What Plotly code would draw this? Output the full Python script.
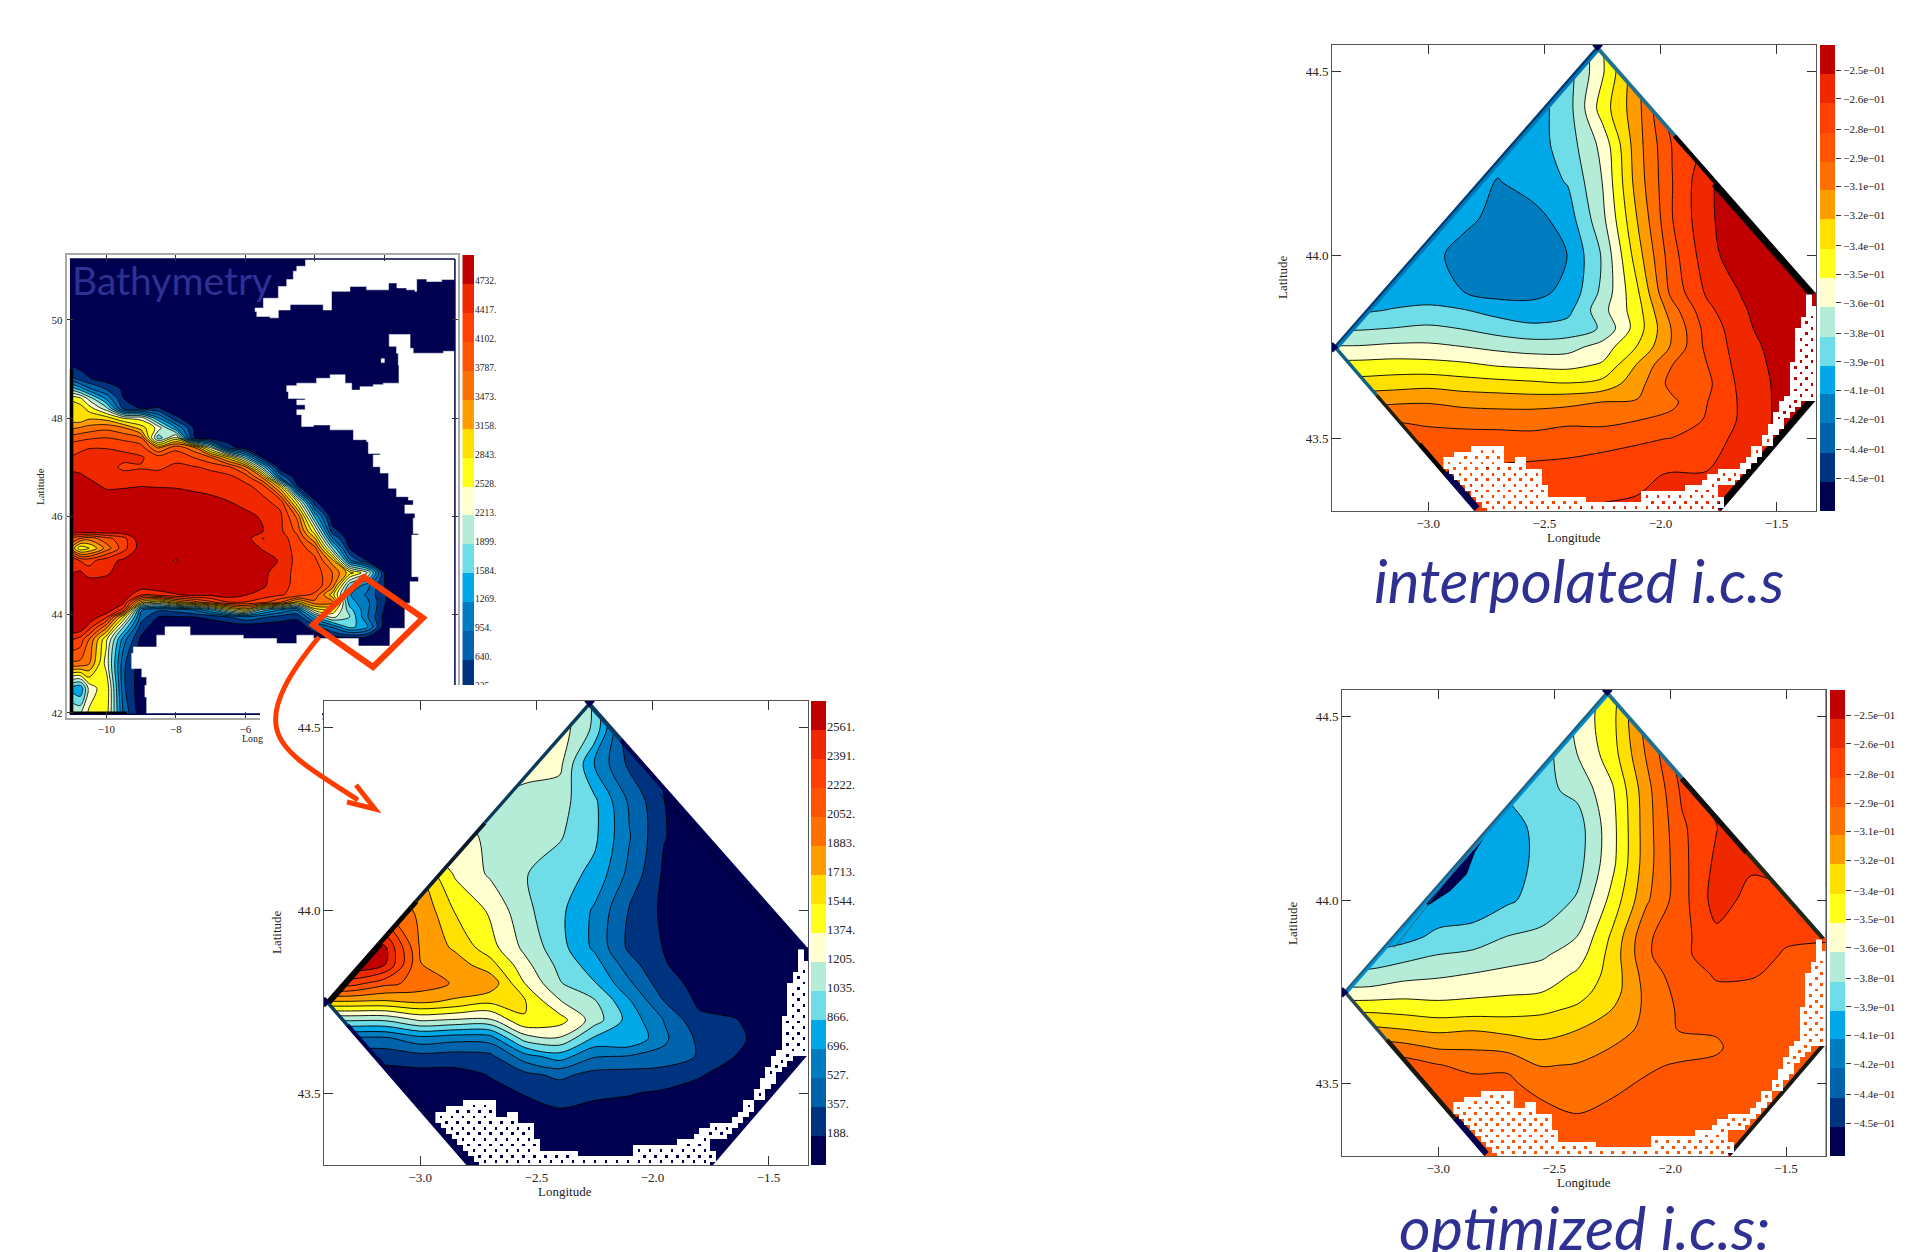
import numpy as np
import plotly.graph_objects as go

W, H = 1916, 1252
NAVY_TXT = "#2E3192"
SERIF = "Liberation Serif"

band_colors = ["#000050", "#00337F", "#0063AC", "#007CC0", "#00A8E8", "#6EDDE8", "#B4ECD8", "#FFFFD0",
               "#FFFF1A", "#FFE000", "#FF9C00", "#FF7000", "#FF5500", "#FF4000", "#F02800", "#C00000"]

# ---------- bathymetry, whole bay ----------
a_levels = [325, 640, 954, 1269, 1584, 1899, 2213, 2528, 2843, 3158, 3473, 3787, 4102, 4417, 4732]
a_labels = ["325.", "640.", "954.", "1269.", "1584.", "1899.", "2213.", "2528.", "2843.", "3158.", "3473.", "3787.", "4102.", "4417.", "4732."]
a_lon = [-11.05, -10.75, -10.5, -10, -9.5, -9, -8.5, -8, -7.5, -7, -6.5, -6, -5.5, -5, -4.5, -4, -3.5, -3, -2.5, -2, -1.5, -1, 0.03]
a_lat = [51.24, 49.2, 48.8, 48.6, 48.4, 48.2, 48.0, 47.8, 47.6, 47.4, 47.2, 47.0, 46.8, 46.6, 46.3, 46.0, 45.7, 45.55, 45.35,
         45.1, 44.85, 44.6, 44.4, 44.25, 44.1, 43.95, 43.75, 43.5, 43.0, 42.5, 41.97]
a_depth = [
    [100]*23,
    [100]*23,
    [800, 500, 350, 150] + [100]*19,
    [1800, 1400, 1000, 600, 250] + [100]*18,
    [2800, 2600, 2100, 1200, 320] + [100]*18,
    [3000, 3000, 2700, 2000, 500, 300, 350] + [100]*16,
    [3000, 2900, 3100, 3000, 2500, 2400, 1300, 400] + [100]*15,
    [3400, 3500, 3600, 3700, 3500, 3000, 2400, 1300, 330] + [100]*14,
    [3900, 4000, 4050, 4100, 4000, 3800, 1700, 2600, 350] + [100]*14,
    [4300, 4350, 4400, 4400, 4350, 4250, 3400, 4000, 3600, 2200, 500] + [100]*12,
    [4420, 4500, 4550, 4550, 4500, 4450, 4250, 4300, 4100, 3800, 3000, 1800, 300] + [100]*10,
    [4650, 4620, 4580, 4550, 4350, 4400, 4350, 4500, 4450, 4350, 4200, 3600, 1800] + [100]*10,
    [4850, 4800, 4700, 4550, 4550, 4500, 4560, 4600, 4600, 4550, 4500, 4300, 3400, 900] + [100]*9,
    [4900, 4900, 4900, 4680, 4700, 4740, 4720, 4720, 4680, 4650, 4600, 4500, 4300, 3000, 350] + [100]*8,
    [5000, 5000, 5000, 5000, 5000, 5000, 5000, 4850, 4850, 4800, 4740, 4650, 4500, 4300, 2500, 350] + [100]*7,
    [5000]*10 + [4950, 4800, 4700, 4500, 3700, 1500] + [100]*7,
    [5000]*10 + [4950, 4900, 4750, 4500, 4000, 2600, 450] + [100]*6,
    [4000, 3800, 3600, 4000, 4300, 5000, 5000, 5000, 5000, 5000, 5000, 4900, 4400, 4600, 4200, 3200, 1000] + [100]*6,
    [3600, 2600, 2800, 3600, 4300, 4900, 5000, 5000, 5000, 5000, 5000, 4950, 4700, 4600, 4300, 3900, 1900, 300] + [100]*5,
    [4800, 4400, 4300, 4600, 4800, 5000, 5000, 4700, 5000, 5000, 5000, 5000, 4900, 4700, 4300, 4200, 3300, 1000, 320] + [100]*4,
    [4700, 4800, 4560, 4650, 5000, 5000, 5000, 5000, 5000, 5000, 5000, 5000, 4800, 4600, 4300, 4300, 3800, 3000, 2300, 300] + [100]*3,
    [5000]*12 + [4800, 4500, 4350, 4400, 3700, 1700, 1100, 330] + [100]*3,
    [5000]*5 + [4400, 4550, 4700, 4800, 4800, 4900, 4750, 4600, 4450, 4300, 4000, 3000, 1300, 900, 350] + [100]*3,
    [5000]*4 + [4800, 3000, 2500, 3200, 3600, 4000, 4400, 4400, 4200, 3800, 3000, 3700, 3600, 1400, 1050, 350] + [100]*3,
    [5000]*4 + [4300, 1000, 700, 800, 1000, 1600, 2500, 3000, 1800, 1300, 1000, 2700, 2800, 1700, 1040, 300] + [100]*3,
    [5000, 5000, 5000, 4500, 2800, 800, 320, 300, 320, 400, 600, 900, 700, 500, 400, 1500, 2300, 1900, 1000, 220] + [100]*3,
    [5000, 5000, 4600, 3600, 1900, 500, 100, 100, 100, 100, 100, 100, 100, 120, 150, 500, 1000, 1700, 1350, 150] + [100]*3,
    [4500, 4300, 3800, 2600, 1100, 250] + [100]*17,
    [3700, 3700, 3500, 2400, 700, 150] + [100]*17,
    [1500, 1300, 2300, 2800, 700] + [100]*18,
    [2300, 2200, 2600, 2700, 900] + [100]*18,
]
# land
uk_lon = [-4.27, -4.27, -4.52, -4.62, -4.81, -5.05, -5.48, -5.72, -5.67, -5.29, -5.10, -5.05, -4.71, -3.76, -3.52, -3.52, -2.99, -2.51, -1.88, -1.64, -1.36, -1.12, -1.07, -0.78, -0.35, 0.03, 0.03, -4.27]
uk_lat = [51.24, 51.09, 50.99, 50.82, 50.68, 50.44, 50.24, 50.17, 50.07, 50.04, 50.04, 50.2, 50.31, 50.2, 50.27, 50.58, 50.68, 50.61, 50.75, 50.65, 50.61, 50.58, 50.83, 50.78, 50.82, 50.78, 51.24, 51.24]
fr_lon = [0.03, -0.30, -1.17, -1.26, -1.50, -1.86, -1.86, -1.65, -1.60, -1.58, -2.03, -2.32, -2.70, -2.94, -3.13, -3.56, -3.95, -4.52, -4.81, -4.76, -4.28, -4.52, -4.28, -4.52, -4.38, -4.04, -3.56, -2.89, -2.51, -2.46, -2.12, -2.32, -2.12, -1.88, -1.65, -1.31, -1.17, -1.41, -1.12, -1.17, -1.02, -1.21, -1.02, -1.26, -1.26, -1.41, -1.41, -1.84, -2.51, -2.75, -4.04, -4.52, -5.10, -6.06, -7.30, -7.59, -8.07, -8.31, -8.55, -9.22, -9.27, -8.98, -8.84, -8.89, -8.84, 0.03, 0.03]
fr_lat = [49.36, 49.32, 49.42, 49.70, 49.70, 49.63, 49.46, 49.32, 49.08, 48.71, 48.68, 48.64, 48.57, 48.71, 48.88, 48.81, 48.71, 48.66, 48.54, 48.40, 48.37, 48.27, 48.17, 48.07, 47.83, 47.86, 47.76, 47.56, 47.52, 47.28, 47.25, 47.01, 46.88, 46.57, 46.40, 46.33, 46.23, 46.06, 45.96, 45.65, 45.62, 44.77, 44.67, 44.63, 44.23, 43.99, 43.72, 43.36, 43.36, 43.51, 43.58, 43.41, 43.51, 43.58, 43.58, 43.75, 43.75, 43.58, 43.34, 43.21, 42.90, 42.73, 42.56, 42.32, 41.99, 41.99, 49.36]
isle_lon = [-2.09, -2.0, -2.0, -2.09, -2.09]
isle_lat = [49.21, 49.21, 49.13, 49.13, 49.21]

# ---------- bathymetry, model box ----------
box_lon = [-3.45, -3.3, -3.15, -3.0, -2.85, -2.7, -2.55, -2.4, -2.25, -2.1, -1.95, -1.8, -1.65, -1.5, -1.3]
box_lat = [44.6, 44.5, 44.4, 44.3, 44.2, 44.1, 44.0, 43.9, 43.85, 43.8, 43.75, 43.7, 43.65, 43.6, 43.55, 43.5, 43.4, 43.3]
box_corner_lon = [-2.271, -1.334, -1.334, -1.739, -2.802, -3.411]
box_corner_lat = [44.571, 43.899, 43.602, 43.303, 43.303, 43.749]
b_levels = [188, 357.4, 527, 696.4, 866, 1035.4, 1205, 1374.4, 1544, 1713.4, 1883, 2052.4, 2222, 2391.4, 2561]
b_labels = ["188.", "357.", "527.", "696.", "866.", "1035.", "1205.", "1374.", "1544.", "1713.", "1883.", "2052.", "2222.", "2391.", "2561."]
b_depth = [
    [1300]*8 + [1000, 150] + [100]*5,
    [1300]*8 + [1000, 170] + [100]*5,
    [1300]*7 + [1250, 680, 320, 150] + [100]*4,
    [1200]*6 + [1120, 1100, 900, 500, 190] + [100]*4,
    [1300]*5 + [1160, 1100, 1050, 900, 540, 195] + [100]*4,
    [1700]*4 + [1350, 1180, 1045, 950, 820, 480, 160] + [100]*4,
    [2000]*3 + [1850, 1530, 1350, 1080, 910, 670, 345, 150] + [100]*4,
    [2700, 2700, 2570, 1860, 1680, 1440, 1160, 930, 660, 320, 180] + [100]*4,
    [2700, 2700, 2560, 1890, 1800, 1620, 1260, 990, 780, 430, 200, 110, 100, 100, 100],
    [2300, 2300, 2100, 1990, 1860, 1830, 1375, 1050, 880, 560, 250, 140, 100, 100, 100],
    [1700, 1700, 1690, 1745, 1680, 1580, 1560, 1220, 1060, 720, 360, 160, 110, 100, 100],
    [1060, 1060, 1060, 1230, 1190, 1180, 1535, 1450, 1120, 800, 520, 225, 200, 100, 100],
    [500, 500, 500, 640, 590, 610, 1120, 1190, 840, 860, 560, 320, 240, 100, 100],
    [250, 250, 250, 300, 280, 310, 620, 780, 540, 510, 480, 340, 190, 100, 100],
    [120, 120, 120, 120, 130, 195, 310, 400, 300, 290, 260, 200, 130, 100, 100],
    [100, 100, 100, 100, 110, 150, 195, 250, 210, 195, 170, 140, 100, 100, 100],
    [100]*15,
    [100]*15,
]

# ---------- initial conditions ----------
ic_levels = [-.450, -.436, -.421, -.407, -.393, -.379, -.364, -.350, -.336, -.321, -.307, -.293, -.279, -.264, -.250]
ic_labels = ["\u22124.5e\u221201", "\u22124.4e\u221201", "\u22124.2e\u221201", "\u22124.1e\u221201", "\u22123.9e\u221201", "\u22123.8e\u221201", "\u22123.6e\u221201",
             "\u22123.5e\u221201", "\u22123.4e\u221201", "\u22123.2e\u221201", "\u22123.1e\u221201", "\u22122.9e\u221201", "\u22122.8e\u221201", "\u22122.6e\u221201", "\u22122.5e\u221201"]
interp_ic = [
    [-.40]*7 + [-.385, -.35, -.31, -.28, -.26, -.24, -.24, -.24],
    [-.40]*7 + [-.385, -.352, -.31, -.28, -.26, -.24, -.24, -.24],
    [-.40]*7 + [-.385, -.343, -.312, -.27, -.26, -.24, -.24, -.24],
    [-.40]*7 + [-.386, -.36, -.313, -.278, -.26, -.24, -.24, -.24],
    [-.40]*5 + [-.408, -.40, -.392, -.364, -.315, -.279, -.253, -.24, -.24, -.24],
    [-.40, -.40, -.40, -.40, -.403, -.412, -.413, -.40, -.368, -.321, -.279, -.253, -.24, -.24, -.24],
    [-.40, -.40, -.40, -.402, -.413, -.416, -.416, -.407, -.377, -.328, -.284, -.256, -.24, -.24, -.24],
    [-.40, -.40, -.40, -.402, -.407, -.413, -.411, -.404, -.375, -.338, -.288, -.262, -.249, -.24, -.24],
    [-.395, -.395, -.392, -.389, -.392, -.398, -.402, -.397, -.369, -.342, -.299, -.268, -.252, -.24, -.24],
    [-.38, -.38, -.378, -.376, -.379, -.385, -.389, -.387, -.377, -.343, -.306, -.273, -.255, -.24, -.24],
    [-.363, -.363, -.361, -.361, -.364, -.368, -.371, -.37, -.358, -.335, -.305, -.275, -.257, -.245, -.245],
    [-.345, -.345, -.344, -.345, -.347, -.351, -.353, -.354, -.348, -.32, -.293, -.279, -.258, -.247, -.247],
    [-.33, -.33, -.328, -.326, -.329, -.331, -.333, -.335, -.331, -.313, -.288, -.282, -.26, -.248, -.248],
    [-.31, -.31, -.309, -.308, -.311, -.312, -.313, -.311, -.307, -.306, -.296, -.279, -.262, -.248, -.248],
    [-.30, -.30, -.294, -.297, -.298, -.299, -.298, -.296, -.298, -.293, -.289, -.277, -.262, -.248, -.248],
    [-.29, -.29, -.285, -.285, -.287, -.287, -.289, -.286, -.283, -.281, -.278, -.274, -.258, -.248, -.248],
    [-.28, -.28, -.28, -.28, -.28, -.275, -.272, -.272, -.271, -.267, -.263, -.263, -.25, -.25, -.25],
    [-.28, -.28, -.28, -.28, -.28, -.27, -.268, -.264, -.262, -.262, -.262, -.262, -.255, -.25, -.25],
]
optim_ic = [
    [-.40]*6 + [-.385, -.36, -.345, -.30, -.27, -.25, -.25, -.25, -.25],
    [-.40]*6 + [-.385, -.36, -.34, -.30, -.27, -.25, -.25, -.25, -.25],
    [-.40]*6 + [-.385, -.364, -.342, -.305, -.27, -.25, -.25, -.25, -.25],
    [-.40]*5 + [-.39, -.382, -.375, -.352, -.312, -.276, -.25, -.25, -.25, -.25],
    [-.40]*5 + [-.40, -.387, -.385, -.355, -.313, -.281, -.265, -.25, -.25, -.25],
    [-.40]*4 + [-.403, -.40, -.388, -.384, -.354, -.313, -.283, -.261, -.262, -.25, -.25],
    [-.40, -.40, -.40, -.405, -.402, -.395, -.387, -.377, -.345, -.309, -.284, -.258, -.269, -.275, -.275],
    [-.40, -.40, -.398, -.389, -.387, -.378, -.375, -.364, -.333, -.295, -.283, -.268, -.275, -.278, -.278],
    [-.39, -.39, -.384, -.378, -.375, -.37, -.366, -.357, -.33, -.295, -.281, -.273, -.277, -.279, -.28],
    [-.375, -.375, -.37, -.367, -.364, -.361, -.359, -.348, -.33, -.30, -.285, -.277, -.278, -.28, -.28],
    [-.36, -.36, -.356, -.356, -.354, -.352, -.35, -.341, -.328, -.303, -.288, -.281, -.28, -.282, -.282],
    [-.338, -.338, -.34, -.343, -.342, -.341, -.338, -.333, -.321, -.304, -.29, -.287, -.283, -.284, -.284],
    [-.319, -.319, -.322, -.325, -.323, -.326, -.328, -.322, -.315, -.303, -.291, -.291, -.284, -.284, -.284],
    [-.30, -.30, -.303, -.309, -.309, -.312, -.317, -.315, -.307, -.298, -.30, -.295, -.284, -.284, -.284],
    [-.285, -.285, -.285, -.292, -.297, -.296, -.308, -.306, -.301, -.295, -.291, -.29, -.285, -.285, -.285],
    [-.28, -.28, -.28, -.285, -.288, -.289, -.301, -.301, -.296, -.291, -.288, -.287, -.285, -.285, -.285],
    [-.28, -.28, -.28, -.28, -.28, -.28, -.283, -.291, -.288, -.287, -.285, -.283, -.283, -.283, -.283],
    [-.28, -.28, -.28, -.28, -.28, -.28, -.28, -.285, -.285, -.285, -.285, -.283, -.283, -.283, -.283],
]
wedge_lon = [-3.046, -2.949, -2.879, -2.844, -2.80, -2.80, -3.10, -3.046]
wedge_lat = [43.986, 44.026, 44.071, 44.13, 44.175, 44.30, 44.10, 43.986]

# land cells of the model box: row, first column, last column
land_row = [0, 1, 2, 2, 3, 4, 5, 6, 7, 8, 8, 9, 9, 10, 11, 7, 6, 5, 4, 3, 2, 1, 0, -1, -2, -3, -4, -5, -6, -7, -8, -9, -10, -11, -12, -13, -14, -15,
            -16, -17, -18, -19, -20, -21, -22, -23, -24, -25, -26, -27]
land_c0 = [5, 2, 0, 13, 0, 1, 2, 3, 4, 5, 36, 6, 36, 7, 8, 44, 47, 48, 50, 54, 55, 56, 56, 58, 58, 59, 59, 60, 60, 61, 61, 62, 63, 63, 63, 63, 63, 63,
           64, 64, 64, 64, 64, 64, 65, 65, 66, 66, 66, 66]
land_c1 = [10, 10, 10, 14, 14, 17, 17, 17, 18, 18, 49, 25, 50, 50, 49, 49, 52, 53, 54, 55, 56, 57, 57, 59, 59, 60, 61, 61, 62, 63, 64, 67, 67, 67, 67, 67, 67, 67,
           67, 67, 67, 67, 67, 67, 67, 67, 67, 67, 66, 66]

# ---------- layout helpers ----------
def xdom(a, b):
    return [a / W, b / W]

def ydom(t, b):
    return [1 - b / H, 1 - t / H]

def discrete(colors):
    n = len(colors)
    out = []
    for i, c in enumerate(colors):
        out += [[i / n, c], [(i + 1) / n, c]]
    return out

fig = go.Figure()
layout = {}
annots = []
axis_id = [0]

def new_axes(xd, yd, xa, ya):
    axis_id[0] += 1
    k = axis_id[0]
    s = "" if k == 1 else str(k)
    layout["xaxis" + s] = dict(domain=xd, anchor="y" + s, **xa)
    layout["yaxis" + s] = dict(domain=yd, anchor="x" + s, **ya)
    return "x" + s, "y" + s

def note(text, x, y, size, rot=0, anchor="center", **font):
    annots.append(dict(text=text, x=x / W, y=1 - y / H, xref="paper", yref="paper", showarrow=False, xanchor=anchor, yanchor="middle",
                       textangle=rot, font=dict(size=size, **font), align="center"))

def contour(lon, lat, z, levels, xa, ya, lw=0.9):
    step = (levels[-1] - levels[0]) / (len(levels) - 1)
    fig.add_trace(go.Contour(x=lon, y=list(lat)[::-1], z=list(z)[::-1], xaxis=xa, yaxis=ya, showscale=False, autocontour=False,
                             contours=dict(start=levels[0], end=levels[-1], size=step, coloring="fill"),
                             colorscale=discrete(band_colors), zmin=levels[0] - step, zmax=levels[-1] + step,
                             line=dict(color="#000000", width=lw, smoothing=0.9), hoverinfo="skip"))

def colorbar(xd, yd, levels, labels, size, ticklen, tickoff=0.13):
    step = (levels[-1] - levels[0]) / (len(levels) - 1)
    edges_ = [levels[0] - step] + list(levels) + [levels[-1] + step]
    mids = [(edges_[i] + edges_[i + 1]) / 2 for i in range(16)]
    xa, ya = new_axes(xd, yd,
                      dict(visible=False, range=[0, 1], fixedrange=True),
                      dict(range=[edges_[0], edges_[-1]], side="right", showline=False, showgrid=False, zeroline=False,
                           tickvals=[v + tickoff * step for v in levels], ticktext=labels, ticks="outside" if ticklen else "",
                           ticklen=ticklen, tickcolor="#333333", tickwidth=1, tickfont=dict(family=SERIF, size=size, color="#222222")))
    fig.add_trace(go.Heatmap(x=[0, 1], y=edges_, z=[[m] for m in mids],
                             colorscale=discrete(band_colors), zmin=edges_[0], zmax=edges_[-1], showscale=False, hoverinfo="skip",
                             xaxis=xa, yaxis=ya))

def frame(xr, yr, xticks, xtext, yticks, ytext, size, ticklen, linecolor="#555555", lw=1):
    common = dict(showgrid=False, zeroline=False, showline=True, linecolor=linecolor, linewidth=lw, mirror="ticks", ticks="inside",
                  ticklen=ticklen, tickcolor="#333333", tickwidth=1, tickfont=dict(family=SERIF, size=size, color="#222222"))
    return dict(range=xr, tickvals=xticks, ticktext=xtext, **common), dict(range=yr, tickvals=yticks, ticktext=ytext, **common)

def box_mask(xa, ya, xr, yr):
    cx, cy = box_corner_lon, box_corner_lat
    px = [xr[0], xr[0], cx[0], cx[5], None,
          cx[0], xr[1], xr[1], cx[1], None,
          cx[2], xr[1], xr[1], cx[3], None,
          cx[4], xr[0], xr[0], cx[5]]
    py = [yr[0], yr[1], yr[1], cy[5], None,
          yr[1], yr[1], cy[1], cy[1], None,
          cy[2], cy[2], yr[0], yr[0], None,
          yr[0], yr[0], cy[5], cy[5]]
    fig.add_trace(go.Scatter(x=px, y=py, mode="lines", fill="toself", fillcolor="#FFFFFF", line=dict(width=0, color="#FFFFFF"),
                             xaxis=xa, yaxis=ya, hoverinfo="skip", showlegend=False))

def line_seg(xa, ya, lon0, lat0, lon1, lat1, col, w):
    fig.add_trace(go.Scatter(x=[lon0, lon1], y=[lat0, lat1], mode="lines", line=dict(color=col, width=w), xaxis=xa, yaxis=ya,
                             hoverinfo="skip", showlegend=False))

N_, E_, F_, S1_, S2_, W_ = 0, 1, 2, 3, 4, 5

def edges(xa, ya, segs):
    """stretches of the dense contours that hug the border: corner a to corner b, fraction t0 to t1"""
    for a, b, t0, t1, col, w in segs:
        ax, ay, bx, by = box_corner_lon[a], box_corner_lat[a], box_corner_lon[b], box_corner_lat[b]
        line_seg(xa, ya, ax + t0 * (bx - ax), ay + t0 * (by - ay), ax + t1 * (bx - ax), ay + t1 * (by - ay), col, w)

LAND_DX, LAND_DY, LAND_X0, LAND_Y0 = 0.0237, 0.0153, -2.935, 43.48

def land_cells(xd, yd, xr, yr):
    coarse = np.zeros((39, 68), bool)
    for r, c0, c1 in zip(land_row, land_c0, land_c1):
        coarse[r + 27, c0:c1 + 1] = True
    g = np.where(np.kron(coarse, np.ones((4, 4), bool)), 1.0, np.nan)
    for r in range(1, 39):
        for c in range(1, 68):
            if (r - 27 + c) % 2 == 0 and coarse[r - 1:r + 1, c - 1:c + 1].all():
                g[r * 4 - 1:r * 4 + 1, c * 4 - 1:c * 4 + 1] = np.nan
    xa, ya = new_axes(xd, yd, dict(visible=False, range=xr, fixedrange=True), dict(visible=False, range=yr, fixedrange=True))
    top = LAND_Y0 + 27 * LAND_DY
    fig.add_trace(go.Heatmap(z=g[::-1], x0=LAND_X0 + LAND_DX / 8, dx=LAND_DX / 4, y0=top - 39 * LAND_DY + LAND_DY / 8, dy=LAND_DY / 4,
                             colorscale=[[0, "#FFFFFF"], [1, "#FFFFFF"]], showscale=False, hoverinfo="skip", xaxis=xa, yaxis=ya))

box_xr = [-3.415, -1.33]
box_yr = [43.303, 44.573]
box_xt, box_xl = [-3.0, -2.5, -2.0, -1.5], ["\u22123.0", "\u22122.5", "\u22122.0", "\u22121.5"]
box_yt, box_yl = [43.5, 44.0, 44.5], ["43.5", "44.0", "44.5"]

def box_panel(l, r, t, b, cb0, cb1, z, levels, labels, cbsize, ticklen, segs, thin=(), wedge=False):
    xa_d, ya_d = frame(box_xr, box_yr, box_xt, box_xl, box_yt, box_yl, 13, 9)
    xa, ya = new_axes(xdom(l, r), ydom(t, b), xa_d, ya_d)
    contour(box_lon, box_lat, z, levels, xa, ya)
    if wedge:
        fig.add_trace(go.Scatter(x=wedge_lon, y=wedge_lat, mode="lines", fill="toself", fillcolor="#000050", line=dict(color="#000000", width=0.8),
                                 xaxis=xa, yaxis=ya, hoverinfo="skip", showlegend=False))
    edges(xa, ya, segs)
    for s in thin:
        line_seg(xa, ya, *s)
    box_mask(xa, ya, box_xr, box_yr)
    fig.add_trace(go.Scatter(x=[box_corner_lon[N_], box_corner_lon[W_]], y=[box_corner_lat[N_], box_corner_lat[W_]], mode="markers",
                             marker=dict(symbol="diamond", size=8, color="#000050"), xaxis=xa, yaxis=ya, hoverinfo="skip", showlegend=False))
    land_cells(xdom(l, r), ydom(t, b), box_xr, box_yr)
    colorbar(xdom(cb0, cb1), ydom(t, b), levels, labels, cbsize, ticklen)

# ---------- panel: whole bay ----------
xa_d, ya_d = frame([-11.14, 0.11], [41.9, 51.32], [-10, -8, -6, -4, -2], ["\u221210", "\u22128", "\u22126", "", ""],
                   [42, 44, 46, 48, 50], ["42", "44", "46", "48", "50"], 11, 6, linecolor="#AAAAAA", lw=2)
xa, ya = new_axes(xdom(66.7, 457.7), ydom(255, 717.7), xa_d, ya_d)
contour(a_lon, a_lat, a_depth, a_levels, xa, ya, lw=0.8)
for lo, la in ((uk_lon, uk_lat), (fr_lon, fr_lat), (isle_lon, isle_lat)):
    fig.add_trace(go.Scatter(x=lo, y=la, mode="lines", fill="toself", fillcolor="#FFFFFF", line=dict(color="#FFFFFF", width=0.5, shape="hv"),
                             xaxis=xa, yaxis=ya, hoverinfo="skip", showlegend=False))
for s in [(-11.0, 49.0, -11.0, 41.97, "#000000", 3.5), (-11.0, 51.24, -11.0, 49.0, "#000050", 3),
          (-11.05, 51.24, 0.03, 51.24, "#000050", 1.5), (0.03, 51.24, 0.03, 41.97, "#000050", 1.5),
          (-11.05, 41.97, 0.03, 41.97, "#000050", 1.5), (-11.0, 42.0, -9.4, 42.0, "#000000", 2.5)]:
    line_seg(xa, ya, *s)
colorbar(xdom(462.3, 474), ydom(255, 717.7), a_levels, a_labels, 9.5, 0, tickoff=0.1)

# ---------- panel: model box bathymetry ----------
box_panel(324, 808, 701, 1165, 811, 826, b_depth, b_levels, b_labels, 12.5, 0, [
    (W_, N_, 0, .2, "#000000", 12), (W_, N_, .2, .34, "#000000", 9), (W_, N_, .34, .6, "#0A1A2A", 7), (W_, N_, .6, 1, "#0A3A5A", 6),
    (N_, E_, 0, .15, "#0A3A60", 8), (N_, E_, .15, 1, "#000050", 8),
    (W_, S2_, 0, .15, "#0A3A60", 7), (W_, S2_, .15, 1, "#000050", 8),
    (S1_, F_, 0, 1, "#000050", 8),
], thin=[(-1.969, 44.32, -1.389, 43.90, "#000020", 1), (-3.18, 43.598, -2.942, 43.424, "#000020", 1)])
# ---------- panel: interpolated ----------
box_panel(1332, 1816, 45, 511, 1820, 1835, interp_ic, ic_levels, ic_labels, 11, 5, [
    (W_, N_, 0, 1, "#0078B8", 10), (W_, N_, 0, 1, "#003A70", 4),
    (N_, E_, 0, .36, "#207090", 7), (N_, E_, .36, .55, "#000000", 8), (N_, E_, .55, 1, "#000000", 14),
    (W_, S2_, 0, .3, "#106080", 7), (W_, S2_, .3, .6, "#202010", 7), (W_, S2_, .6, .78, "#000000", 9), (W_, S2_, .78, 1, "#000050", 14),
    (S1_, F_, 0, .05, "#000050", 14), (S1_, F_, .05, 1, "#000000", 14),
])
# ---------- panel: optimized ----------
box_panel(1342, 1825.5, 690, 1156, 1830, 1845, optim_ic, ic_levels, ic_labels, 11, 5, [
    (W_, N_, 0, 1, "#0090D0", 9), (W_, N_, 0, 1, "#206080", 4),
    (N_, E_, 0, .35, "#207090", 7), (N_, E_, .35, .65, "#101010", 10), (N_, E_, .65, 1, "#202818", 8),
    (W_, S2_, 0, .3, "#304850", 7), (W_, S2_, .3, .78, "#181810", 9), (W_, S2_, .78, 1, "#000050", 12),
    (S1_, F_, 0, .06, "#000050", 10), (S1_, F_, .06, 1, "#181810", 8),
], thin=[(-3.19, 43.87, -2.69, 44.275, "#505050", 0.8)], wedge=True)

# ---------- texts ----------
note("Longitude", 565, 1191, 13, family=SERIF, color="#222222")
note("Latitude", 276, 932, 13, rot=-90, family=SERIF, color="#222222")
note("Longitude", 1574, 537, 13, family=SERIF, color="#222222")
note("Latitude", 1283, 277, 13, rot=-90, family=SERIF, color="#222222")
note("Longitude", 1584, 1182, 13, family=SERIF, color="#222222")
note("Latitude", 1293, 923, 13, rot=-90, family=SERIF, color="#222222")
note("Latitude", 40, 487, 11, rot=-90, family=SERIF, color="#222222")
note("Long", 240, 738, 10, anchor="left", family=SERIF, color="#222222")
note("Bathymetry", 172, 280, 39, family="Lato", color=NAVY_TXT)
note("<i>interpolated i.c.s</i>", 1579, 580, 60, family="Lato", color=NAVY_TXT)
note("<i>optimized i.c.s:</i>", 1585, 1226, 61, family="Lato", color=NAVY_TXT)

RED = "#FF3C00"
shapes = [
    dict(type="rect", xref="paper", yref="paper", x0=260 / W, x1=322 / W, y0=1 - 720 / H, y1=1 - 685 / H, fillcolor="#FFFFFF", line=dict(width=0)),
    dict(type="rect", xref="paper", yref="paper", x0=322 / W, x1=500 / W, y0=1 - 700 / H, y1=1 - 685 / H, fillcolor="#FFFFFF", line=dict(width=0)),
]

def px_path(cmds):
    out = []
    for c in cmds:
        if isinstance(c, str):
            out.append(c)
        else:
            out.append(f"{c[0] / W:.5f},{1 - c[1] / H:.5f}")
    return " ".join(out)

shapes.append(dict(type="path", xref="paper", yref="paper", line=dict(color=RED, width=6),
                   path=px_path(["M", (364, 577), "L", (423, 618), "L", (373, 667), "L", (313, 625), "Z"])))
shapes.append(dict(type="path", xref="paper", yref="paper", line=dict(color=RED, width=5),
                   path=px_path(["M", (319, 637), "C", (290, 672), (270, 705), (277, 730), "C", (283, 755), (320, 775), (358, 800)])))
shapes.append(dict(type="path", xref="paper", yref="paper", line=dict(color=RED, width=5),
                   path=px_path(["M", (356, 785), "L", (375, 809), "L", (347, 802)])))

fig.update_layout(width=W, height=H, margin=dict(l=0, r=0, t=0, b=0, pad=0), paper_bgcolor="#FFFFFF", plot_bgcolor="rgba(0,0,0,0)",
                  showlegend=False, annotations=annots, shapes=shapes, **layout)
fig.write_html("out.html", config=dict(displayModeBar=False),
               post_script="document.body.style.margin='0';document.documentElement.style.overflow='hidden';")
